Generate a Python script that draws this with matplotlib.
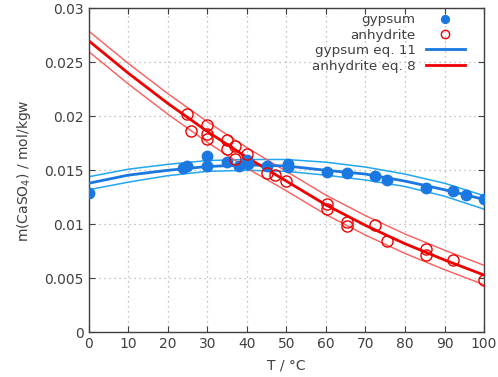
import matplotlib
matplotlib.use('Agg')
import matplotlib.pyplot as plt

gyp_T = [0, 23.8, 24.8, 30, 30, 35, 37.9, 40, 40.4, 45, 50.5, 50.5, 60.3, 65.3, 72.3, 75.4, 85.2, 92.2, 95.5, 100]
gyp_m = [0.0129, 0.01525, 0.01537, 0.0163, 0.0154, 0.01577, 0.01537, 0.01593, 0.01562, 0.01537,
         0.0156, 0.0153, 0.01484, 0.01475, 0.01451, 0.01407, 0.01333, 0.01306, 0.01271, 0.01231]

anh_T = [24.9, 26, 30, 30, 30, 35, 35, 37, 37, 40, 45, 47.1, 50, 60.3, 60.3, 65.3, 65.3, 72.3, 75.4, 85.2, 85.2, 92.2, 100]
anh_m = [0.0202, 0.0186, 0.01923, 0.0184, 0.01787, 0.01784, 0.017, 0.01729, 0.01608, 0.01654, 0.01475,
         0.01454, 0.01398, 0.01185, 0.01145, 0.01021, 0.00988, 0.00997, 0.00843, 0.00775, 0.00719, 0.00673, 0.00488]

# model curves (read at 10 degree steps)
T_fit = [0, 10, 20, 30, 40, 50, 60, 70, 80, 90, 100]
gyp_fit = [0.0138, 0.01455, 0.0150, 0.01535, 0.0155, 0.0154, 0.0150, 0.01465, 0.0140, 0.0132, 0.0123]
gyp_hi = [0.0144, 0.0151, 0.01555, 0.0159, 0.0160, 0.0160, 0.01575, 0.0153, 0.01465, 0.0138, 0.01265]
gyp_lo = [0.0132, 0.0139, 0.0145, 0.0149, 0.0150, 0.0149, 0.01455, 0.0141, 0.0135, 0.0126, 0.0114]

anh_fit = [0.0270, 0.0240, 0.0212, 0.0186, 0.0162, 0.0140, 0.0118, 0.0099, 0.0082, 0.0067, 0.0053]
anh_hi = [0.0279, 0.0249, 0.0221, 0.0195, 0.0171, 0.0149, 0.0127, 0.0108, 0.0091, 0.0076, 0.0062]
anh_lo = [0.0260, 0.0230, 0.0202, 0.0176, 0.0152, 0.0131, 0.0109, 0.0090, 0.0073, 0.0058, 0.0044]

blue = '#1a78e0'
blue_l = '#22a6f2'
red = '#ee0000'
red_l = '#ff5a5a'
txt = '#404040'

plt.rcParams['font.family'] = 'DejaVu Sans'
plt.rcParams['font.size'] = 10

fig = plt.figure(figsize=(4.98, 3.77), dpi=100)
ax = fig.add_axes([0.178, 0.1186, 0.794, 0.8594])

ax.plot(T_fit, gyp_hi, color=blue_l, lw=1.1)
ax.plot(T_fit, gyp_lo, color=blue_l, lw=1.1)
ax.plot(T_fit, anh_hi, color=red_l, lw=1.0)
ax.plot(T_fit, anh_lo, color=red_l, lw=1.0)

ax.plot(gyp_T, gyp_m, 'o', color=blue, ms=7.5, mec=blue, label='gypsum', zorder=4)
ax.plot(anh_T, anh_m, 'o', mfc='none', mec=red, ms=8, mew=1.0, label='anhydrite', zorder=4)
ax.plot(T_fit, gyp_fit, color=blue, lw=2.0, label='gypsum eq. 11', zorder=3)
ax.plot(T_fit, anh_fit, color=red, lw=2.0, label='anhydrite eq. 8', zorder=3)

ax.set_xlim(0, 100)
ax.set_ylim(0, 0.03)
ax.set_xticks(range(0, 101, 10))
ax.set_yticks([0, 0.005, 0.01, 0.015, 0.02, 0.025, 0.03])
ax.set_yticklabels(['0', '0.005', '0.01', '0.015', '0.02', '0.025', '0.03'])

ax.grid(True, color='#b0b0b0', linestyle=(0, (1, 3)), lw=0.9)
ax.tick_params(direction='in', top=True, right=True, length=4, colors=txt, labelcolor=txt, labelsize=10)
for s in ax.spines.values():
    s.set_color(txt)
    s.set_linewidth(1.0)

ax.set_xlabel('T / °C', color=txt, fontsize=10, labelpad=5)
ax.set_ylabel('m(CaSO$_4$) / mol/kgw', color=txt, fontsize=10, labelpad=8)

leg = ax.legend(loc='upper right', bbox_to_anchor=(0.978, 1.018), frameon=False, markerfirst=False,
                handlelength=2.9, labelspacing=0.18, borderpad=0.3, handletextpad=0.75, fontsize=9.7,
                markerscale=0.75)
for t in leg.get_texts():
    t.set_color(txt)

fig.savefig('out.png', dpi=100)
